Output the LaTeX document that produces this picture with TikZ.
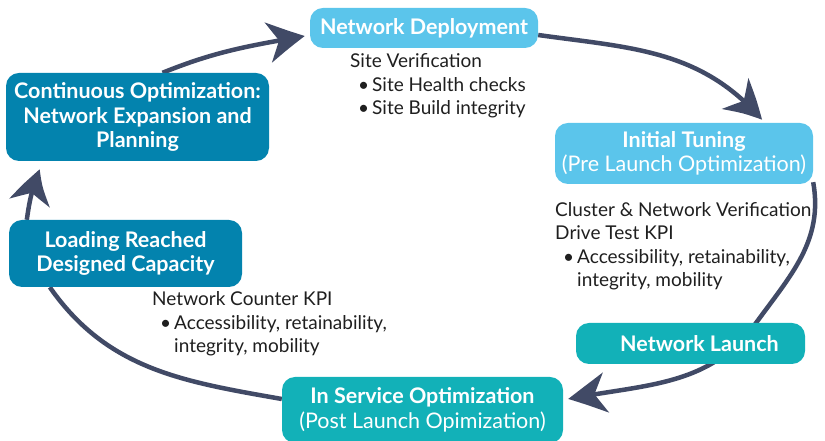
\documentclass[tikz,border=0pt]{standalone}
\usepackage{fontspec}
\setmainfont{Lato}
\usepackage{tikz}
\usetikzlibrary{arrows.meta, bending, backgrounds}
\usepackage{xcolor}
\definecolor{skyblue}{HTML}{5BC5EB}
\definecolor{deepblue}{HTML}{0383AE}
\definecolor{launchteal}{HTML}{12B1B8}
\definecolor{arrowslate}{HTML}{414A66}
\newcommand{\bul}{\hspace*{8pt}\makebox[14pt][l]{\textbullet}}
\newcommand{\cont}{\hspace*{22pt}}

\begin{document}
\begin{tikzpicture}[x=1pt, y=1pt,
    stage/.style={rounded corners=13pt, text=white, align=center, inner sep=0pt,
      font=\fontsize{21.5}{24.5}\selectfont\bfseries},
    note/.style={anchor=base west, align=left, text=black!88,
      font=\fontsize{19}{23.5}\selectfont},
    flow/.style={line width=4.5pt, draw=arrowslate},
    tip/.style={-{Stealth[length=39pt, width=40pt, inset=12pt, bend]}}]
        \useasboundingbox (0,0) rectangle (825,441);
        % Stages round the cycle
        \node[stage, fill=skyblue, minimum width=228pt, minimum height=40pt]
          (deploy) at (424,413) {Network Deployment};
        \node[stage, fill=skyblue, minimum width=258pt, minimum height=61pt]
          (tuning) at (684,287.5) {Initial Tuning\\{\mdseries(Pre Launch Optimization)}};
        \node[stage, fill=launchteal, minimum width=229pt, minimum height=41pt]
          (launch) at (690.5,97.5) {\hspace*{18pt}Network Launch};
        \node[stage, fill=launchteal, minimum width=281pt, minimum height=66pt]
          (service) at (422.5,31) {In Service Optimization\\{\mdseries(Post Launch Opimization)}};
        \node[stage, fill=deepblue, minimum width=233pt, minimum height=67pt]
          (loading) at (125.5,187.5) {Loading Reached\\Designed Capacity};
        \node[stage, fill=deepblue, minimum width=263pt, minimum height=88pt]
          (contopt) at (137.5,324) {Continuous Optimization:\\Network Expansion and\\Planning};
        % Notes under the stages (base = last line)
        \node[note] (siteverif) at (346.7,326)
          {Site Verification\\\bul Site Health checks\\\bul Site Build integrity};
        \node[note] (clusterverif) at (551.7,154)
          {Cluster \& Network Verification\\Drive Test KPI\\\bul Accessibility, retainability,\\\cont integrity, mobility};
        \node[note] (counterkpi) at (148.7,88)
          {Network Counter KPI\\\bul Accessibility, retainability,\\\cont integrity, mobility};
        % Cycle arrows, kept behind the boxes
        \coordinate (launchbend) at (756,118);
        \begin{scope}[on background layer]
          \draw[flow, tip] ([xshift=25pt]contopt.north) to[out=22, in=190]
            ([xshift=-5pt, yshift=-8pt]deploy.west);
          \draw[flow, tip] ([yshift=-7pt]deploy.east) to[out=-8, in=131]
            ([xshift=78pt, yshift=3pt]tuning.north);
          \draw[flow, tip] ([yshift=2pt]tuning.south east) to[out=-80, in=54] (launchbend)
            to[out=234, in=11] ([xshift=5pt, yshift=11pt]service.east);
          \draw[flow] ([yshift=11pt]service.west) to[out=170, in=-55]
            ([xshift=41pt]loading.south west);
          \draw[flow, tip] ([xshift=18pt]loading.north west) to[out=82, in=-112]
            ([xshift=34pt, yshift=-8pt]contopt.south west);
        \end{scope}
      \end{tikzpicture}
\end{document}
